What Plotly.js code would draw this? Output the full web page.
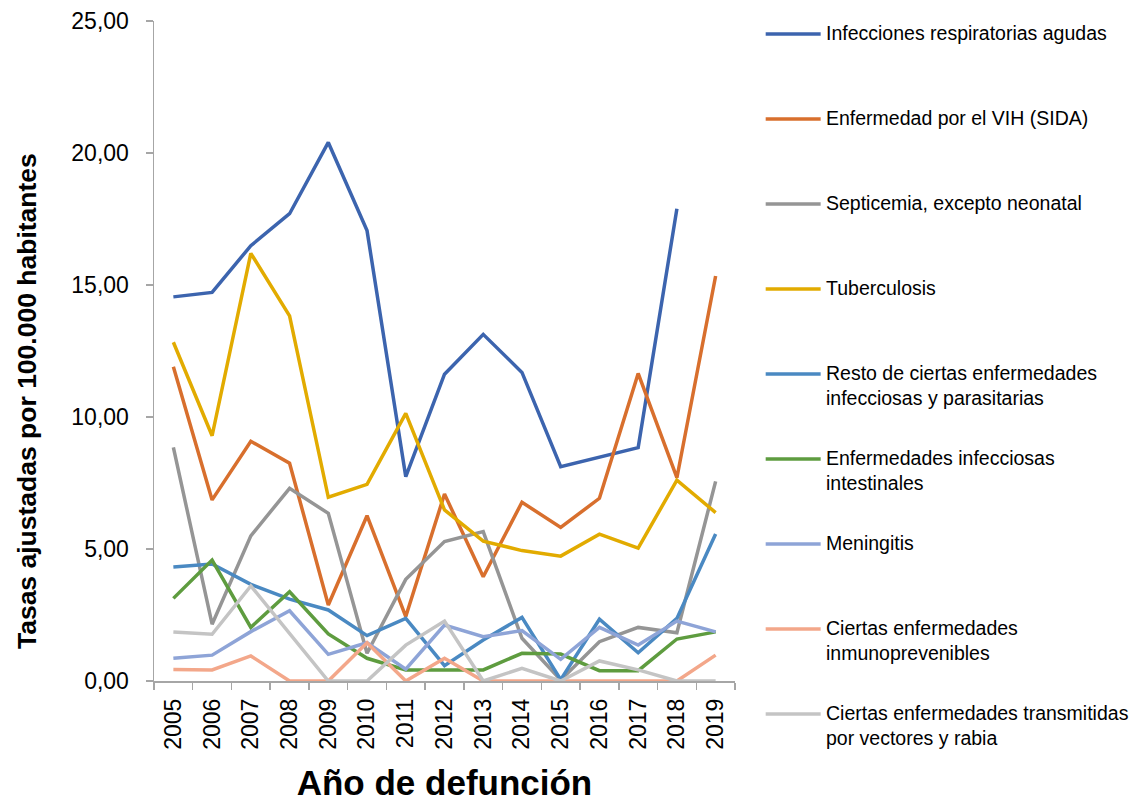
<!DOCTYPE html>
<html>
<head>
<meta charset="utf-8">
<script src="https://cdn.plot.ly/plotly-3.0.1.min.js"></script>
<style>
  html, body { margin: 0; padding: 0; background: #fff; }
  #chart { width: 1132px; height: 802px; }
</style>
</head>
<body>
<div id="chart"></div>
<script>
const years = ['2005', '2006', '2007', '2008', '2009', '2010', '2011', '2012', '2013', '2014', '2015', '2016', '2017', '2018', '2019'];

const respiratorias = [14.55, 14.72, 16.49, 17.70, 20.40, 17.06, 7.74, 11.62, 13.13, 11.69, 8.12, 8.48, 8.84, 17.89, null];
const vih = [11.90, 6.86, 9.08, 8.25, 2.88, 6.26, 2.44, 7.08, 3.95, 6.77, 5.82, 6.92, 11.65, 7.70, 15.34];
const septicemia = [8.85, 2.15, 5.50, 7.30, 6.35, 1.05, 3.85, 5.28, 5.66, 1.62, 0.04, 1.49, 2.03, 1.83, 7.56];
const tuberculosis = [12.83, 9.29, 16.20, 13.83, 6.96, 7.45, 10.14, 6.48, 5.30, 4.94, 4.73, 5.56, 5.03, 7.61, 6.38];
const restoInfecciosas = [4.32, 4.43, 3.66, 3.10, 2.69, 1.72, 2.37, 0.58, 1.55, 2.41, 0.05, 2.34, 1.07, 2.37, 5.57];
const intestinales = [3.13, 4.58, 2.03, 3.38, 1.78, 0.86, 0.42, 0.42, 0.42, 1.05, 1.02, 0.39, 0.39, 1.59, 1.86];
const meningitis = [0.86, 0.98, 1.87, 2.66, 1.01, 1.45, 0.45, 2.12, 1.68, 1.91, 0.82, 2.03, 1.36, 2.27, 1.86];
const inmunoprevenibles = [0.44, 0.42, 0.95, 0, 0, 1.45, 0, 0.86, 0, 0, 0, 0, 0, 0, 0.98];
const vectores = [1.86, 1.77, 3.60, 1.80, 0, 0, 1.36, 2.27, 0, 0.48, 0, 0.76, 0.42, 0, 0];

const seriesNames = [
  'Infecciones respiratorias agudas',
  'Enfermedad por el VIH (SIDA)',
  'Septicemia, excepto neonatal',
  'Tuberculosis',
  'Resto de ciertas enfermedades infecciosas y parasitarias',
  'Enfermedades infecciosas intestinales',
  'Meningitis',
  'Ciertas enfermedades inmunoprevenibles',
  'Ciertas enfermedades transmitidas por vectores y rabia',
];
const legendLabels = [
  'Infecciones respiratorias agudas',
  'Enfermedad por el VIH (SIDA)',
  'Septicemia, excepto neonatal',
  'Tuberculosis',
  'Resto de ciertas enfermedades<br>infecciosas y parasitarias',
  'Enfermedades infecciosas<br>intestinales',
  'Meningitis',
  'Ciertas enfermedades<br>inmunoprevenibles',
  'Ciertas enfermedades transmitidas<br>por vectores y rabia',
];
const seriesValues = [respiratorias, vih, septicemia, tuberculosis, restoInfecciosas, intestinales, meningitis, inmunoprevenibles, vectores];
const COLORS = ['#3c64ae', '#d86f2d', '#959595', '#e2ab00', '#4a89c2', '#5e9c3f', '#8ea4d7', '#f3a78a', '#c4c4c4'];

const FONT = '"Liberation Sans", Arial, sans-serif';

// plot area in pixels, used to place the hand-drawn legend and y title
const PLOT = { left: 154, right: 735.3, top: 21, bottom: 681 };
const px2x = (px) => (px - PLOT.left) / (PLOT.right - PLOT.left);
const px2y = (py) => (PLOT.bottom - py) / (PLOT.bottom - PLOT.top);

const traces = seriesValues.map((values, i) => ({
  x: years,
  y: values,
  name: seriesNames[i],
  type: 'scatter',
  mode: 'lines',
  line: { color: COLORS[i], width: 3.5 },
  connectgaps: false,
}));

const legendShapes = [];
const notes = [];
legendLabels.forEach((label, i) => {
  const rowY = 34 + i * 85;
  legendShapes.push({
    type: 'line', xref: 'paper', yref: 'paper',
    x0: px2x(766), x1: px2x(821), y0: px2y(rowY), y1: px2y(rowY),
    line: { color: COLORS[i], width: 3.5 },
  });
  notes.push({
    xref: 'paper', yref: 'paper', x: px2x(825), y: px2y(rowY - 13),
    xanchor: 'left', yanchor: 'top', align: 'left', showarrow: false, borderpad: 0,
    text: label,
    font: { family: FONT, size: 19.5, color: '#000' },
  });
});

// y title sits a bit below the plot's middle in the original
notes.push({
  xref: 'paper', yref: 'paper', x: px2x(27), y: px2y(401),
  xanchor: 'center', yanchor: 'middle', showarrow: false, textangle: -90,
  text: 'Tasas ajustadas por 100.000 habitantes',
  font: { family: FONT, size: 26.5, color: '#000', weight: 'bold' },
});

const layout = {
  width: 1132,
  height: 802,
  margin: { l: PLOT.left, r: 1132 - PLOT.right, t: PLOT.top, b: 802 - PLOT.bottom, pad: 0 },
  paper_bgcolor: 'white',
  plot_bgcolor: 'white',
  separators: ',.',
  showlegend: false,
  font: { family: FONT, color: '#000' },
  xaxis: {
    type: 'category',
    range: [-0.5, 14.5],
    tickson: 'boundaries',
    ticks: 'outside', ticklen: 7, tickwidth: 1.5, tickcolor: '#a6a6a6',
    showline: true, linecolor: '#a6a6a6', linewidth: 1.5,
    showgrid: false, zeroline: false,
    tickangle: -90,
    tickfont: { family: FONT, size: 23, color: '#000' },
    ticklabelstandoff: 7,
    automargin: false,
    title: { text: 'Año de defunción', font: { family: FONT, size: 35, color: '#000', weight: 'bold' }, standoff: 27 },
  },
  yaxis: {
    range: [0, 25],
    dtick: 5,
    tickformat: '.2f',
    ticks: 'outside', ticklen: 7, tickwidth: 1.5, tickcolor: '#a6a6a6',
    showline: true, linecolor: '#a6a6a6', linewidth: 1.5,
    showgrid: false, zeroline: false,
    tickfont: { family: FONT, size: 23, color: '#000' },
    ticklabelstandoff: 12,
    automargin: false,
  },
  shapes: legendShapes,
  annotations: notes,
};

Plotly.newPlot('chart', traces, layout, { displayModeBar: false, staticPlot: true });
</script>
</body>
</html>
